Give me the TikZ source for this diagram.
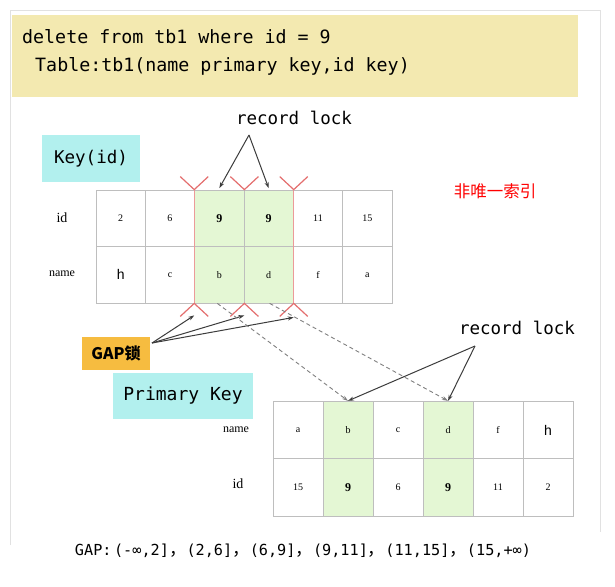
\documentclass[tikz,border=0pt]{standalone}
\usepackage{fontspec}
\newfontfamily\mono{DejaVu Sans Mono}
\newfontfamily\cjk{Noto Sans CJK SC}
\newfontfamily\srf{Liberation Serif}
\newfontfamily\snf{Liberation Sans}
\usetikzlibrary{arrows.meta}
\definecolor{codebg}{RGB}{243,233,176}
\definecolor{keybg}{RGB}{178,240,238}
\definecolor{gapbg}{RGB}{246,188,64}
\definecolor{lockgreen}{RGB}{228,247,212}
\definecolor{gridgray}{RGB}{190,190,190}
\definecolor{vred}{RGB}{228,110,110}
\definecolor{arrgray}{RGB}{60,60,60}
\definecolor{frame}{RGB}{225,225,225}
\tikzset{
  cellA/.style={draw=gridgray, line width=0.8pt, minimum width=49.33pt, minimum height=56.5pt, inner sep=0pt, font=\srf\fontsize{10}{12}\selectfont},
  cellB/.style={draw=gridgray, line width=0.8pt, minimum width=50pt, minimum height=57.5pt, inner sep=0pt, font=\srf\fontsize{10}{12}\selectfont},
  locked/.style={fill=lockgreen},
  nine/.style={font=\srf\bfseries\fontsize{12}{14}\selectfont},
  hh/.style={font=\snf\fontsize{14}{16}\selectfont},
  rowlab/.style={font=\srf\fontsize{14}{16}\selectfont, inner sep=0pt},
  rowlabs/.style={font=\srf\fontsize{12}{14}\selectfont, inner sep=0pt},
  monolab/.style={font=\mono\fontsize{17.5}{20}\selectfont, inner sep=0pt},
  vmark/.style={draw=vred, line width=1.2pt},
  lockarrow/.style={draw=arrgray, line width=1pt, -{Stealth[length=6pt,width=4pt]}},
  dasharrow/.style={draw=gray, line width=0.9pt, dash pattern=on 4pt off 3pt, -{Stealth[length=6pt,width=4pt]}}
}
\newcommand{\fwc}{{\cjk\fontsize{17.5}{18}\selectfont ，}}
\begin{document}
\begin{tikzpicture}[x=1pt,y=-1pt]
\useasboundingbox (0,0) rectangle (615,586);
\fill[white] (0,0) rectangle (615,586);
% frame
\draw[frame, line width=1pt] (10,545) -- (10,11) -- (600,11) -- (600,532);
% code box
\node[fill=codebg, minimum width=566pt, minimum height=82pt, anchor=north west, inner sep=0pt] (code) at (12,15) {};
\node[anchor=west, inner sep=0pt, font=\mono\fontsize{18.3}{20}\selectfont] (line1) at (22,37) {delete from tb1 where id = 9};
\node[anchor=west, inner sep=0pt, font=\mono\fontsize{18.3}{20}\selectfont] (line2) at (24,66) {\ Table:tb1(name primary key,id key)};

% Key(id) box
\node[fill=keybg, minimum width=98pt, minimum height=47pt, inner sep=0pt, font=\mono\fontsize{17.5}{20}\selectfont] (keyid) at (91,158.5) {Key(id)};

% top table
\foreach \v [count=\i] in {2,6,9,9,11,15} {
  \pgfmathsetmacro{\cx}{96+49.33*(\i-0.5)}
  \ifnum\i=3 \node[cellA, locked, nine] (ki\i) at (\cx,218.25) {\v};
  \else\ifnum\i=4 \node[cellA, locked, nine] (ki\i) at (\cx,218.25) {\v};
  \else \node[cellA] (ki\i) at (\cx,218.25) {\v};\fi\fi
}
\foreach \v [count=\i] in {h,c,b,d,f,a} {
  \pgfmathsetmacro{\cx}{96+49.33*(\i-0.5)}
  \ifnum\i=1 \node[cellA, hh] (kn\i) at (\cx,274.75) {\v};
  \else\ifnum\i=3 \node[cellA, locked] (kn\i) at (\cx,274.75) {\v};
  \else\ifnum\i=4 \node[cellA, locked] (kn\i) at (\cx,274.75) {\v};
  \else \node[cellA] (kn\i) at (\cx,274.75) {\v};\fi\fi\fi
}
\draw[vred!70, line width=0.8pt] (ki3.north west) -- (kn3.south west);
\draw[vred!70, line width=0.8pt] (ki4.north east) -- (kn4.south east);
\node[rowlab, anchor=center] (lid1) at (62,218) {id};
\node[rowlabs, anchor=center] (lname1) at (62,274) {name};

% red V marks
\foreach \c/\n in {ki3.north west/1,ki3.north east/2,ki4.north east/3} {
  \coordinate (vt\n) at (\c);
  \draw[vmark] ([shift={(-14,-13)}]vt\n) -- (vt\n) -- ([shift={(14,-13)}]vt\n);
}
\foreach \c/\n in {kn3.south west/1,kn3.south east/2,kn4.south east/3} {
  \coordinate (vb\n) at (\c);
  \draw[vmark] ([shift={(-14,13)}]vb\n) -- (vb\n) -- ([shift={(14,13)}]vb\n);
}

% record lock (top)
\node[monolab] (rl1) at (294,118) {record lock};
\coordinate (rl1a) at (249,135);
\draw[lockarrow] (rl1a) -- ([yshift=1.5pt]ki3.north);
\draw[lockarrow] (rl1a) -- ([yshift=1.5pt]ki4.north);

% 非唯一索引
\node[inner sep=0pt, text=red, font=\cjk\fontsize{16.5}{18}\selectfont] (nonuniq) at (495,191) {非唯一索引};

% GAP lock box
\node[fill=gapbg, minimum width=68pt, minimum height=33pt, inner sep=0pt, font=\cjk\bfseries\fontsize{16}{18}\selectfont] (gap) at (116,353.5) {GAP锁};
\coordinate (gapo) at (152,343);
\draw[lockarrow] (gapo) -- ([yshift=-12pt]vb1);
\draw[lockarrow] (gapo) -- ([yshift=-12pt]vb2);
\draw[lockarrow] (gapo) -- ([yshift=-14pt]vb3);

% Primary Key box
\node[fill=keybg, minimum width=140pt, minimum height=46pt, inner sep=0pt, font=\mono\fontsize{18}{20}\selectfont] (pk) at (183,396) {Primary Key};

% bottom table
\foreach \v [count=\i] in {a,b,c,d,f,h} {
  \pgfmathsetmacro{\cx}{273+50*(\i-0.5)}
  \ifnum\i=6 \node[cellB, hh] (pn\i) at (\cx,430) {\v};
  \else\ifnum\i=2 \node[cellB, locked] (pn\i) at (\cx,430) {\v};
  \else\ifnum\i=4 \node[cellB, locked] (pn\i) at (\cx,430) {\v};
  \else \node[cellB] (pn\i) at (\cx,430) {\v};\fi\fi\fi
}
\foreach \v [count=\i] in {15,9,6,9,11,2} {
  \pgfmathsetmacro{\cx}{273+50*(\i-0.5)}
  \ifnum\i=2 \node[cellB, locked, nine] (pi\i) at (\cx,487.5) {\v};
  \else\ifnum\i=4 \node[cellB, locked, nine] (pi\i) at (\cx,487.5) {\v};
  \else \node[cellB] (pi\i) at (\cx,487.5) {\v};\fi\fi
}
\node[rowlabs, anchor=center] (lname2) at (236,430) {name};
\node[rowlab, anchor=center] (lid2) at (238,484) {id};

% dashed mapping arrows
\draw[dasharrow] ([xshift=-2pt]kn3.south) -- (pn2.north);
\draw[dasharrow] ([xshift=1pt]kn4.south) -- (pn4.north);

% record lock (bottom)
\node[monolab] (rl2) at (517,328) {record lock};
\coordinate (rl2a) at (475,346);
\draw[lockarrow] (rl2a) -- (pn2.north);
\draw[lockarrow] (rl2a) -- (pn4.north);

% gap list
\node[inner sep=0pt, font=\mono\fontsize{15.2}{17}\selectfont] (gaplist) at (303,551) {GAP:\,(-∞,2]\fwc(2,6]\fwc(6,9]\fwc(9,11]\fwc(11,15]\fwc(15,+∞)};
\end{tikzpicture}
\end{document}
